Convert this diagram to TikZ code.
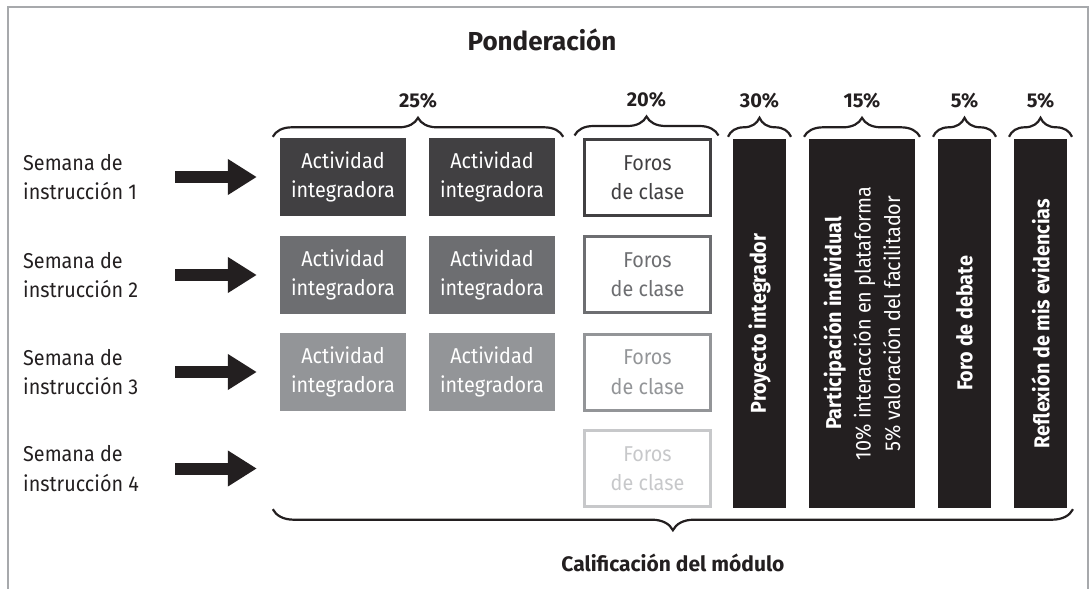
\documentclass[tikz,border=0pt]{standalone}
\usepackage{fontspec}
\setmainfont[FakeStretch=0.92]{Fira Sans}
\newfontfamily\headfont{Fira Sans}
\usepackage{tikz}
\tikzset{>=latex}
\usetikzlibrary{calc}
\usetikzlibrary{arrows.meta}
\usetikzlibrary{decorations.pathreplacing}
\definecolor{inkblack}{HTML}{231F20}
\definecolor{gray80}{HTML}{414042}
\definecolor{gray60}{HTML}{6D6E71}
\definecolor{gray45}{HTML}{939598}
\definecolor{gray25}{HTML}{C7C8CA}
\definecolor{framegray}{HTML}{A7A9AC}
\newcommand{\boxfont}{\fontsize{21.5}{29.5}\selectfont}
\newcommand{\pctfont}{\headfont\bfseries\fontsize{20}{24}\selectfont}
\tikzset{
  weeklabel/.style={anchor=west, align=left, inner sep=0pt, text=inkblack, font=\boxfont},
  actbox/.style={minimum width=126pt, minimum height=78pt, inner sep=0pt, text=white, align=center, font=\boxfont},
  forobox/.style={draw=#1, text=#1, line width=3pt, minimum width=126pt, minimum height=76pt, inner sep=0pt, align=center, font=\boxfont},
  barnode/.style={fill=inkblack, text=white, rotate=90, minimum width=369pt, inner sep=0pt, align=center, font=\boxfont},
  pct/.style={inner sep=0pt, text=inkblack, font=\pctfont},
  curly/.style={decorate, decoration={brace, amplitude=#1}, line width=2.2pt, draw=inkblack},
  bigarrow/.style={draw=inkblack, line width=12pt, -{Triangle[length=29pt, width=34pt]}}
}

\begin{document}
\begin{tikzpicture}[x=1pt, y=-1pt]
            \useasboundingbox (0, 0) rectangle (1090, 589);
            \draw[framegray, line width=1.5pt] (8, 589) -- (8, 7) -- (1088, 7) -- (1088, 589);
            \node[text=inkblack, font=\headfont\bfseries\fontsize{26}{30}\selectfont] (title) at (542, 40) {Ponderación};
            % semanas
            \node[weeklabel] (s1) at (23, 177) {Semana de\\instrucción 1};
            \node[weeklabel] (s2) at (23, 275) {Semana de\\instrucción 2};
            \node[weeklabel] (s3) at (23, 372) {Semana de\\instrucción 3};
            \node[weeklabel] (s4) at (23, 468.5) {Semana de\\instrucción 4};
            % actividades integradoras
            \node[actbox, fill=gray80] (a11) at (343, 177) {Actividad\\integradora};
            \node[actbox, fill=gray80] (a12) at (492, 177) {Actividad\\integradora};
            \node[actbox, fill=gray60] (a21) at (343, 275) {Actividad\\integradora};
            \node[actbox, fill=gray60] (a22) at (492, 275) {Actividad\\integradora};
            \node[actbox, fill=gray45] (a31) at (343, 372) {Actividad\\integradora};
            \node[actbox, fill=gray45] (a32) at (492, 372) {Actividad\\integradora};
            % foros
            \node[forobox=gray80] (f1) at (647.5, 177.5) {Foros\\de clase};
            \node[forobox=gray60] (f2) at (647.5, 274.5) {Foros\\de clase};
            \node[forobox=gray45] (f3) at (647.5, 372) {Foros\\de clase};
            \node[forobox=gray25] (f4) at (647.5, 468.5) {Foros\\de clase};
            % columnas
            \node[barnode, minimum height=53pt] (b1) at (759.5, 323.5) {\textbf{Proyecto integrador}};
            \node[barnode, minimum height=106pt] (b2) at (862, 323.5) {\textbf{Participación individual}\\10\% interacción en plataforma\\5\% valoración del facilitador};
            \node[barnode, minimum height=53pt] (b3) at (964.5, 323.5) {\textbf{Foro de debate}};
            \node[barnode, minimum height=53pt] (b4) at (1040.5, 323.5) {\textbf{Reflexión de mis evidencias}};
            % flechas
            \draw[bigarrow] ($(s1.west)+(152, 0)$) -- ($(a11.west)+(-23, 0)$);
            \draw[bigarrow] ($(s2.west)+(152, 0)$) -- ($(a21.west)+(-23, 0)$);
            \draw[bigarrow] ($(s3.west)+(152, 0)$) -- ($(a31.west)+(-23, 0)$);
            \draw[bigarrow] ($(s4.west)+(152, 0)$) -- ($(a31.west |- s4.west)+(-23, 0)$);
            % llaves
            \draw[curly=19pt] ($(a11.north west)+(-7, -1)$) -- ($(a12.north east)+(8, -1)$) node[pct, midway, above=27pt] {25\%};
            \draw[curly=19pt] ($(f1.north west)+(-8.5, -2.5)$) -- ($(f1.north east)+(6.5, -2.5)$) node[pct, midway, above=27pt] {20\%};
            \draw[curly=19pt] ($(b1.east)+(-31.5, -2)$) -- ($(b1.east)+(31.5, -2)$) node[pct, midway, above=27pt] {30\%};
            \draw[curly=19pt] ($(b2.east)+(-58, -2)$) -- ($(b2.east)+(58, -2)$) node[pct, midway, above=27pt] {15\%};
            \draw[curly=19pt] ($(b3.east)+(-31.5, -2)$) -- ($(b3.east)+(31.5, -2)$) node[pct, midway, above=27pt] {5\%};
            \draw[curly=19pt] ($(b4.east)+(-31.5, -2)$) -- ($(b4.east)+(31.5, -2)$) node[pct, midway, above=27pt] {5\%};
            \draw[curly=21pt] ($(b4.west)+(32.5, 1)$) -- ($(a11.west |- b4.west)+(-7, 1)$) node[pct, midway, below=44pt, font=\headfont\bfseries\fontsize{21}{24}\selectfont] (calif) {Calificación del módulo};
        \end{tikzpicture}
\end{document}
